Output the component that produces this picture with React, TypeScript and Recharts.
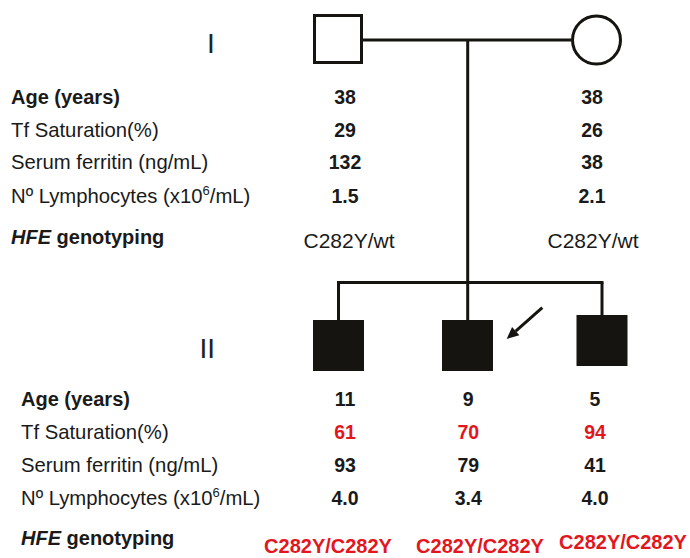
import React from 'react';
import { ScatterChart, Scatter, XAxis, YAxis, ReferenceLine } from 'recharts';

// ---------------- data ----------------
const generations = ['I', 'II'];
const rowLabels = [
  'Age (years)',
  'Tf Saturation(%)',
  'Serum ferritin (ng/mL)',
  'Nº Lymphocytes (x10⁶/mL)',
  'HFE genotyping',
];

const parents = ['I-1', 'I-2'];
const parentSex = ['male', 'female'];
const parentAffected = [false, false];
const parentAge = ['38', '38'];
const parentTfSaturation = ['29', '26'];
const parentFerritin = ['132', '38'];
const parentLymphocytes = ['1.5', '2.1'];
const parentGenotype = ['C282Y/wt', 'C282Y/wt'];

const children = ['II-1', 'II-2', 'II-3'];
const childSex = ['male', 'male', 'male'];
const childAffected = [true, true, true];
const childAge = ['11', '9', '5'];
const childTfSaturation = ['61', '70', '94'];
const childFerritin = ['93', '79', '41'];
const childLymphocytes = ['4.0', '3.4', '4.0'];
const childGenotype = ['C282Y/C282Y', 'C282Y/C282Y', 'C282Y/C282Y'];
const childTfHigh = [true, true, true];
const proband = 'II-2';

// ---------------- layout ----------------
const W = 690;
const H = 558;
const FONT = '"Liberation Sans", Arial, Helvetica, sans-serif';
const INK = '#1a1a1a';
const LINE = '#161410';
const RED = '#e3161e';

const parentSymX = [338, 596.5];
const parentSymY = [39, 40];
const childSymX = [338.5, 467.5, 602];
const childSymY = [345.5, 345.5, 340.5];
const marriageY = 40;
const stemX = 467.7;
const sibshipY = 282.5;
const childTopY = [320, 320, 315];

const genLabelX = [211, 207.3];
const genLabelY = [53, 358];

const topLabelX = 11;
const bottomLabelX = 21;
const topRowY = [104, 136.5, 169, 202.5, 244];
const topValueY = [104, 136.5, 169, 202.5, 247.5];
const bottomRowY = [406, 439, 472, 504.5, 545];
const bottomValueY = [406, 439, 472, 504.5];
const parentValueX = [345, 592];
const parentGenoX = [349, 593];
const childValueX = [345, 468.3, 595];
const childGenoX = [328, 480, 623];
const childGenoY = [553, 552.5, 549];

// ---------------- tables built from data ----------------
const people = [
  ...parents.map((id, i) => ({ id, x: parentSymX[i], y: parentSymY[i], sex: parentSex[i], affected: parentAffected[i] })),
  ...children.map((id, i) => ({ id, x: childSymX[i], y: childSymY[i], sex: childSex[i], affected: childAffected[i] })),
];

type Cell = { x: number; y: number; text: string; anchor: string; size: number; bold: boolean; color: string; kind: string };
const cells: Cell[] = [];

generations.forEach((g, i) =>
  cells.push({ x: genLabelX[i], y: genLabelY[i], text: g, anchor: 'middle', size: 28, bold: false, color: '#222', kind: 'gen' })
);

rowLabels.forEach((t, r) => {
  const bold = r === 0 || r === 4;
  cells.push({ x: topLabelX, y: topRowY[r], text: t, anchor: 'start', size: bold ? 20 : 20.3, bold, color: INK, kind: 'label' });
  cells.push({ x: bottomLabelX, y: bottomRowY[r], text: t, anchor: 'start', size: bold ? 20 : 20.3, bold, color: INK, kind: 'label' });
});

const parentRows = [parentAge, parentTfSaturation, parentFerritin, parentLymphocytes];
parentRows.forEach((row, r) =>
  row.forEach((v, i) =>
    cells.push({ x: parentValueX[i], y: topValueY[r], text: v, anchor: 'middle', size: 19.5, bold: true, color: INK, kind: 'value' })
  )
);
parentGenotype.forEach((v, i) =>
  cells.push({ x: parentGenoX[i], y: topValueY[4], text: v, anchor: 'middle', size: 21, bold: false, color: INK, kind: 'value' })
);

const childRows = [childAge, childTfSaturation, childFerritin, childLymphocytes];
childRows.forEach((row, r) =>
  row.forEach((v, i) =>
    cells.push({
      x: childValueX[i], y: bottomValueY[r], text: v, anchor: 'middle', size: 19.5, bold: true,
      color: r === 1 && childTfHigh[i] ? RED : INK, kind: 'value',
    })
  )
);
childGenotype.forEach((v, i) =>
  cells.push({ x: childGenoX[i], y: childGenoY[i], text: v, anchor: 'middle', size: 20, bold: true, color: RED, kind: 'value' })
);

const probandIdx = children.indexOf(proband);
const arrowData = [{ x: childSymX[probandIdx] + 39.2, y: childSymY[probandIdx] - 6.5 }];

// ---------------- shapes ----------------
function labelContent(text: string) {
  if (text.includes('⁶')) {
    const [a, b] = text.split('⁶');
    return [
      <tspan key="a">{a}</tspan>,
      <tspan key="s" fontSize={13} dy={-8}>6</tspan>,
      <tspan key="b" fontSize={20.3} dy={8}>{b}</tspan>,
    ];
  }
  if (text.startsWith('HFE')) {
    return [
      <tspan key="i" fontStyle="italic">HFE</tspan>,
      <tspan key="r">{text.slice(3)}</tspan>,
    ];
  }
  return text;
}

const TextShape = (props: any) => {
  const { cx, cy, payload } = props;
  return (
    <text
      x={cx}
      y={cy}
      textAnchor={payload.anchor}
      fontFamily={FONT}
      fontSize={payload.size}
      fontWeight={payload.bold ? 700 : 400}
      fill={payload.color}
    >
      {labelContent(payload.text)}
    </text>
  );
};

const PersonShape = (props: any) => {
  const { cx, cy, payload } = props;
  if (payload.sex === 'female') {
    return <circle cx={cx} cy={cy} r={24} fill={payload.affected ? LINE : '#fff'} stroke={LINE} strokeWidth={3} />;
  }
  if (payload.affected) {
    return <rect x={cx - 25.5} y={cy - 25.5} width={51} height={51} fill={LINE} />;
  }
  return <rect x={cx - 23.5} y={cy - 23.5} width={47} height={47} fill="#fff" stroke={LINE} strokeWidth={3} />;
};

const ArrowShape = (props: any) => {
  const { cx, cy } = props;
  const dx = 35.6, dy = -31.3;
  const len = Math.sqrt(dx * dx + dy * dy);
  const ux = dx / len, uy = dy / len;
  const head = 12, half = 5.5;
  const bx = cx + ux * head, by = cy + uy * head;
  const nx = -uy, ny = ux;
  return (
    <g>
      <line x1={cx + dx} y1={cy + dy} x2={bx} y2={by} stroke={LINE} strokeWidth={3} />
      <polygon
        points={`${cx},${cy} ${bx + nx * half},${by + ny * half} ${bx - nx * half},${by - ny * half}`}
        fill={LINE}
      />
    </g>
  );
};

const lineProps = { stroke: LINE, strokeWidth: 3, ifOverflow: 'visible' as const };

export default function App() {
  return (
    <div style={{ position: 'fixed', left: 0, top: 0, width: W, height: H, background: '#fff' }}>
      <ScatterChart width={W} height={H} margin={{ top: 0, right: 0, bottom: 0, left: 0 }}>
        <XAxis type="number" dataKey="x" domain={[0, W]} allowDataOverflow hide />
        <YAxis type="number" dataKey="y" domain={[0, H]} allowDataOverflow reversed hide />
        {/* marriage line */}
        <ReferenceLine segment={[{ x: parentSymX[0] + 25, y: marriageY }, { x: parentSymX[1] - 25.5, y: marriageY }]} {...lineProps} />
        {/* descent stem to proband */}
        <ReferenceLine segment={[{ x: stemX, y: marriageY }, { x: stemX, y: childTopY[1] }]} {...lineProps} />
        {/* sibship line */}
        <ReferenceLine
          segment={[{ x: childSymX[0], y: sibshipY }, { x: childSymX[2], y: sibshipY }]}
          {...lineProps}
          strokeLinecap="square"
        />
        <ReferenceLine segment={[{ x: childSymX[0], y: sibshipY }, { x: childSymX[0], y: childTopY[0] }]} {...lineProps} />
        <ReferenceLine segment={[{ x: childSymX[2], y: sibshipY }, { x: childSymX[2], y: childTopY[2] }]} {...lineProps} />
        <Scatter data={people} shape={PersonShape} isAnimationActive={false} />
        <Scatter data={arrowData} shape={ArrowShape} isAnimationActive={false} />
        <Scatter data={cells} shape={TextShape} isAnimationActive={false} />
      </ScatterChart>
    </div>
  );
}
